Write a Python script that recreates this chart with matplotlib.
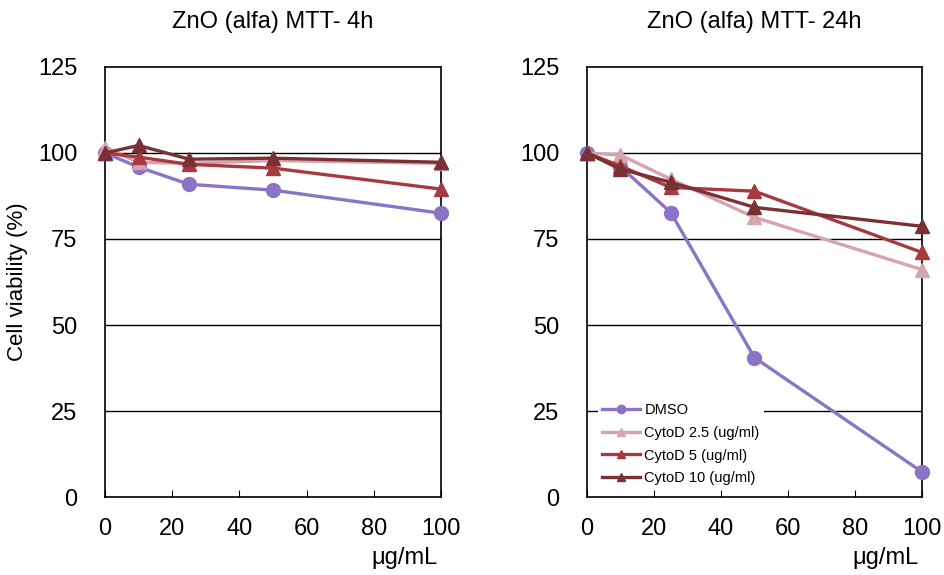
import matplotlib
matplotlib.use("Agg")
import matplotlib.pyplot as plt

plt.rcParams["font.family"] = ["Liberation Sans", "DejaVu Sans"]

# concentrations (ug/mL)
conc = [0, 10, 25, 50, 100]

# 4h viability (%)
dmso_4h = [100, 95.9, 90.9, 89.2, 82.5]
cyto25_4h = [101.5, 97.3, 97.0, 97.8, 97.0]
cyto5_4h = [100, 98.8, 96.7, 95.6, 89.5]
cyto10_4h = [100, 102.2, 98.2, 98.5, 97.3]

# 24h viability (%)
dmso_24h = [100, 96.0, 82.7, 40.5, 7.3]
cyto25_24h = [100, 99.4, 92.4, 81.3, 66.1]
cyto5_24h = [100, 96.2, 90.0, 88.9, 71.1]
cyto10_24h = [100, 95.3, 91.5, 84.2, 78.7]

labels = ["DMSO", "CytoD 2.5 (ug/ml)", "CytoD 5 (ug/ml)", "CytoD 10 (ug/ml)"]
colors = ["#8a74c6", "#d6a4ac", "#a8393f", "#7a3136"]
markers = ["o", "^", "^", "^"]
msizes = [10, 10, 10, 10]

titles = ["ZnO (alfa) MTT- 4h", "ZnO (alfa) MTT- 24h"]
yticks = [0, 25, 50, 75, 100, 125]
xticks = [0, 20, 40, 60, 80, 100]

fig = plt.figure(figsize=(9.45, 5.75), dpi=100)
ax1 = fig.add_axes([105 / 945, 78 / 575, 336 / 945, 430 / 575])
ax2 = fig.add_axes([587 / 945, 78 / 575, 335 / 945, 430 / 575])

panels = [
    (ax1, [dmso_4h, cyto25_4h, cyto5_4h, cyto10_4h]),
    (ax2, [dmso_24h, cyto25_24h, cyto5_24h, cyto10_24h]),
]

for i, (ax, series) in enumerate(panels):
    for j, vals in enumerate(series):
        ax.plot(conc, vals, color=colors[j], marker=markers[j], ms=msizes[j],
                lw=2.4, label=labels[j], zorder=3 + j, clip_on=False)
    ax.set_xlim(0, 100)
    ax.set_ylim(0, 125)
    ax.set_xticks(xticks)
    ax.set_yticks(yticks)
    for v in yticks[1:-1]:
        ax.axhline(v, color="black", lw=1.0, zorder=1)
    ax.tick_params(axis="x", direction="in", length=5, pad=15, labelsize=17)
    ax.tick_params(axis="y", length=0, pad=20, labelsize=17)
    for s in ax.spines.values():
        s.set_linewidth(1.2)
    ax.set_title(titles[i], fontsize=17, pad=28)
    ax.text(0.99, -0.142, "μg/mL", transform=ax.transAxes, ha="right",
            va="center", fontsize=17)

fig.text(18 / 945, 1 - 282 / 575, "Cell viability (%)", rotation=90,
         ha="center", va="center", fontsize=16)

leg = ax2.legend(loc="lower left", bbox_to_anchor=(0.01, 0.0), fontsize=10.5,
                 frameon=True, facecolor="white", edgecolor="none",
                 framealpha=1.0, handlelength=2.6, markerscale=0.6,
                 labelspacing=0.6, borderpad=0.3, handletextpad=0.3)
leg.set_zorder(10)

fig.savefig("out.png", dpi=100)
